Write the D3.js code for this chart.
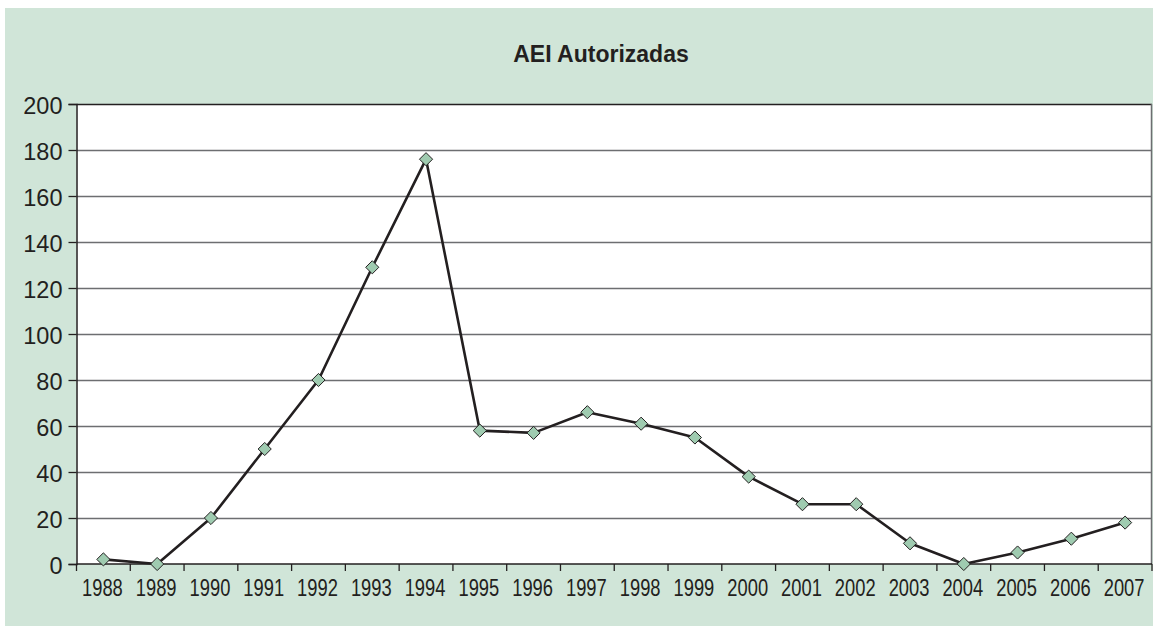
<!DOCTYPE html>
<html>
<head>
<meta charset="utf-8">
<script src="https://cdn.jsdelivr.net/npm/d3@7"></script>
<style>
  body { margin: 0; background: #fff; }
  svg { display: block; }
</style>
</head>
<body>
<svg id="chart"></svg>
<script>
// Données du graphique
const years = ["1988", "1989", "1990", "1991", "1992", "1993", "1994", "1995", "1996", "1997",
               "1998", "1999", "2000", "2001", "2002", "2003", "2004", "2005", "2006", "2007"];
const aeiValues = [2, 0, 20, 50, 80, 129, 176, 58, 57, 66, 61, 55, 38, 26, 26, 9, 0, 5, 11, 18];
const yTicks = [0, 20, 40, 60, 80, 100, 120, 140, 160, 180, 200];
const chartTitle = "AEI Autorizadas";

const width = 1153, height = 626;
const margin = { top: 104, right: 1, bottom: 62, left: 76.5 };
const innerW = width - margin.left - margin.right;
const innerH = height - margin.top - margin.bottom;

const svg = d3.select("#chart").attr("width", width).attr("height", height);

// Fond vert
svg.append("rect")
  .attr("x", 5).attr("y", 8)
  .attr("width", width - 5).attr("height", height - 8)
  .attr("fill", "#d0e5d8");

svg.append("text")
  .attr("x", 601).attr("y", 62)
  .attr("text-anchor", "middle")
  .style("font-family", "'Liberation Sans', Arial, sans-serif")
  .style("font-weight", "bold")
  .style("font-size", "23px")
  .attr("fill", "#231f20")
  .text(chartTitle);

const g = svg.append("g").attr("transform", `translate(${margin.left},${margin.top})`);

// Zone de tracé
g.append("rect")
  .attr("width", innerW).attr("height", innerH)
  .attr("fill", "#ffffff");

const x = d3.scaleBand().domain(years).range([0, innerW]);
const y = d3.scaleLinear().domain([0, 200]).range([innerH, 0]);

// Grille horizontale
g.append("g")
  .selectAll("line")
  .data(yTicks.filter(d => d > 0 && d < 200))
  .enter()
  .append("line")
  .attr("x1", 0).attr("x2", innerW)
  .attr("y1", d => Math.round(y(d)) + 0.5).attr("y2", d => Math.round(y(d)) + 0.5)
  .attr("stroke", "#6d6e71")
  .attr("stroke-width", 1.3);

// Bordures haut et droite
g.append("line").attr("x1", 0).attr("x2", innerW).attr("y1", 0.5).attr("y2", 0.5)
  .attr("stroke", "#231f20").attr("stroke-width", 1.5);
g.append("line").attr("x1", innerW - 0.5).attr("x2", innerW - 0.5).attr("y1", 0).attr("y2", innerH)
  .attr("stroke", "#6d6e71").attr("stroke-width", 1.5);

const tickFont = "'Liberation Sans', Arial, sans-serif";
const narrow = 0.78; // les années sont en police étroite

// Axe Y
const yAxis = g.append("g")
  .call(d3.axisLeft(y).tickValues(yTicks).tickSize(8).tickPadding(6));
yAxis.select(".domain").attr("stroke", "#231f20").attr("stroke-width", 1.5);
yAxis.selectAll(".tick line").attr("stroke", "#231f20").attr("stroke-width", 1.3);
yAxis.selectAll("text")
  .attr("x", -14)
  .attr("dy", "0.36em")
  .attr("transform", "translate(0,1)")
  .style("font-family", tickFont)
  .style("font-size", "23.5px")
  .attr("fill", "#231f20");

// Axe X avec graduations aux limites des catégories
const xAxis = g.append("g").attr("transform", `translate(0,${innerH})`);
xAxis.append("line").attr("x1", 0).attr("x2", innerW).attr("y1", 0).attr("y2", 0)
  .attr("stroke", "#231f20").attr("stroke-width", 1.5);
xAxis.selectAll("line.tk")
  .data(years.concat(["end"]))
  .enter()
  .append("line")
  .attr("class", "tk")
  .attr("x1", (d, i) => i < years.length ? x(d) : innerW)
  .attr("x2", (d, i) => i < years.length ? x(d) : innerW)
  .attr("y1", 0).attr("y2", 7)
  .attr("stroke", "#231f20").attr("stroke-width", 1.3);
xAxis.selectAll("text")
  .data(years)
  .enter()
  .append("text")
  .attr("transform", d => `translate(${x(d) + x.bandwidth() / 2 - 1},31.5) scale(${narrow},1)`)
  .attr("text-anchor", "middle")
  .style("font-family", tickFont)
  .style("font-size", "23.5px")
  .attr("fill", "#231f20")
  .text(d => d);

// Courbe
const line = d3.line()
  .x((d, i) => x(years[i]) + x.bandwidth() / 2)
  .y(d => y(d));

g.append("path")
  .datum(aeiValues)
  .attr("d", line)
  .attr("fill", "none")
  .attr("stroke", "#231f20")
  .attr("stroke-width", 2.6)
  .attr("stroke-linejoin", "round");

// Marqueurs losanges
const diamond = d3.symbol().type(d3.symbolDiamond2).size(110);
g.selectAll("path.marker")
  .data(aeiValues)
  .enter()
  .append("path")
  .attr("class", "marker")
  .attr("d", diamond)
  .attr("transform", (d, i) => `translate(${x(years[i]) + x.bandwidth() / 2},${y(d)})`)
  .attr("fill", "#9fcbb0")
  .attr("stroke", "#231f20")
  .attr("stroke-width", 1);
</script>
</body>
</html>
